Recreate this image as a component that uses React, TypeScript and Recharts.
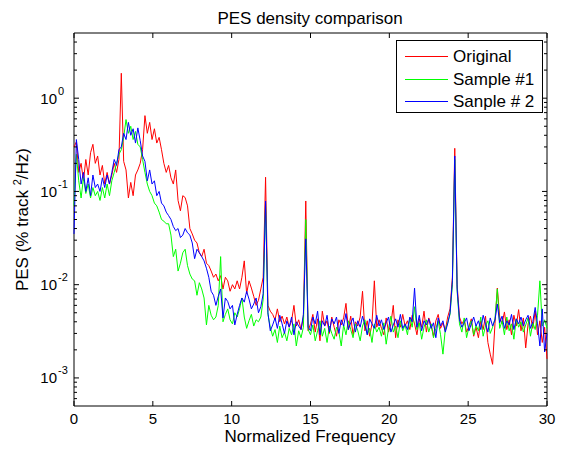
import React from 'react'
import { LineChart, Line, XAxis, YAxis, ReferenceArea } from 'recharts'

const FONT = '"Liberation Sans", Arial, Helvetica, sans-serif'
const PLOT_W = 473
const PLOT_H = 373

// frequency grid (normalized), 0..30 step 0.15
const freq = Array.from({ length: 201 }, (_, i) => Math.round(i * 15) / 100)

const original = [
  0.3, 0.34, 0.16, 0.2, 0.13, 0.22, 0.15, 0.26, 0.32, 0.2,
  0.24, 0.15, 0.19, 0.12, 0.16, 0.12, 0.15, 0.2, 0.16, 0.22,
  1.85, 0.21, 0.17, 0.085, 0.125, 0.09, 0.15, 0.17, 0.2, 0.28,
  0.65, 0.42, 0.55, 0.36, 0.47, 0.33, 0.38, 0.28, 0.2, 0.16,
  0.19, 0.14, 0.12, 0.17, 0.08, 0.062, 0.09, 0.086, 0.07, 0.04,
  0.035, 0.03, 0.028, 0.022, 0.02, 0.024, 0.017, 0.016, 0.014, 0.012,
  0.013, 0.011, 0.0125, 0.009, 0.012, 0.011, 0.0085, 0.01, 0.009, 0.011,
  0.009, 0.012, 0.018, 0.008, 0.011, 0.0092, 0.0075, 0.006, 0.0068, 0.009,
  0.012, 0.142, 0.006, 0.0052, 0.0048, 0.0042, 0.0055, 0.004, 0.0046, 0.0038,
  0.0045, 0.0035, 0.0041, 0.006, 0.0036, 0.0042, 0.0033, 0.0045, 0.079, 0.0032,
  0.0038, 0.0048, 0.0031, 0.0043, 0.0025, 0.0052, 0.0036, 0.0041, 0.003, 0.0045,
  0.0035, 0.0028, 0.0042, 0.0037, 0.0044, 0.0063, 0.0033, 0.0046, 0.0029, 0.004,
  0.0036, 0.0045, 0.0085, 0.0032, 0.0041, 0.0028, 0.0038, 0.011, 0.0035, 0.0042,
  0.0034, 0.0029, 0.0044, 0.0031, 0.0038, 0.006, 0.0027, 0.0042, 0.0035, 0.0048,
  0.0036, 0.0041, 0.0033, 0.0047, 0.0038, 0.0029, 0.0043, 0.0035, 0.0052, 0.0031,
  0.0044, 0.0037, 0.0028, 0.0041, 0.0048, 0.0034, 0.0039, 0.0032, 0.0045, 0.0055,
  0.012, 0.29, 0.01, 0.0045, 0.0038, 0.0042, 0.0031, 0.0036, 0.0043, 0.0028,
  0.0035, 0.0027, 0.0041, 0.0033, 0.0046, 0.0024, 0.0018, 0.0014, 0.0038, 0.0092,
  0.0045, 0.0038, 0.0051, 0.0033, 0.0042, 0.0029, 0.0047, 0.0036, 0.0054, 0.0032,
  0.0044, 0.0021, 0.0038, 0.0046, 0.0034, 0.0052, 0.0029, 0.0041, 0.0024, 0.0035,
  0.0016,
]

const sample1 = [
  0.07, 0.25, 0.13, 0.085, 0.14, 0.095, 0.12, 0.085, 0.11, 0.09,
  0.1, 0.08, 0.11, 0.085, 0.12, 0.09, 0.13, 0.16, 0.2, 0.25,
  0.28, 0.38, 0.59, 0.42, 0.5, 0.36, 0.44, 0.32, 0.3, 0.22,
  0.16, 0.12, 0.1, 0.09, 0.075, 0.07, 0.06, 0.05, 0.048, 0.045,
  0.045, 0.034, 0.02, 0.024, 0.014, 0.017, 0.022, 0.024, 0.016, 0.013,
  0.0115, 0.011, 0.0077, 0.0105, 0.009, 0.0072, 0.0037, 0.006, 0.0047, 0.0042,
  0.0045, 0.006, 0.02, 0.004, 0.0048, 0.0055, 0.0042, 0.0038, 0.005, 0.0045,
  0.0055, 0.0072, 0.0045, 0.0034, 0.0041, 0.0048, 0.0036, 0.0042, 0.004, 0.0045,
  0.007, 0.075, 0.0048, 0.0035, 0.0028, 0.0033, 0.0024, 0.0036, 0.0027, 0.0031,
  0.0025, 0.0034, 0.0029, 0.0038, 0.0022, 0.0032, 0.0027, 0.0035, 0.05, 0.0033,
  0.0029, 0.0037, 0.0025, 0.0032, 0.0041, 0.0028, 0.0034, 0.0024, 0.0036, 0.003,
  0.0026, 0.0035, 0.0031, 0.0022, 0.0037, 0.0029, 0.0041, 0.0033, 0.0027, 0.0038,
  0.0032, 0.0025, 0.0036, 0.0042, 0.0029, 0.0034, 0.0024, 0.0038, 0.0031, 0.0035,
  0.0028, 0.0039, 0.0023, 0.0034, 0.0046, 0.0031, 0.0036, 0.0027, 0.0041, 0.0032,
  0.0037, 0.0029, 0.0044, 0.0035, 0.0058, 0.0033, 0.0039, 0.0026, 0.0035, 0.0042,
  0.0031, 0.0038, 0.0027, 0.0034, 0.0041, 0.0029, 0.0018, 0.0033, 0.0039, 0.0048,
  0.01, 0.22, 0.0085, 0.0038, 0.0031, 0.0044, 0.0027, 0.0035, 0.0041, 0.0029,
  0.0037, 0.0032, 0.0045, 0.0028, 0.0036, 0.0041, 0.003, 0.0035, 0.0043, 0.009,
  0.0034, 0.0041, 0.0029, 0.0045, 0.0032, 0.0038, 0.0026, 0.0043, 0.0035, 0.004,
  0.0031, 0.0037, 0.0044, 0.0028, 0.0039, 0.0033, 0.0047, 0.011, 0.0036, 0.0042,
  0.0034,
]

const sample2 = [
  0.035, 0.36, 0.22, 0.12, 0.16, 0.1, 0.14, 0.09, 0.15, 0.11,
  0.12, 0.1, 0.14, 0.11, 0.15, 0.12, 0.16, 0.22, 0.19, 0.28,
  0.3, 0.42, 0.36, 0.55, 0.4, 0.47, 0.33, 0.48, 0.35, 0.24,
  0.21, 0.13, 0.17, 0.12, 0.13, 0.09, 0.1, 0.075, 0.07, 0.06,
  0.055, 0.05, 0.042, 0.038, 0.04, 0.032, 0.034, 0.04, 0.036, 0.034,
  0.028, 0.019, 0.024, 0.022, 0.02, 0.018, 0.015, 0.012, 0.0085, 0.0077,
  0.006, 0.0075, 0.009, 0.0044, 0.0072, 0.0066, 0.0055, 0.006, 0.0037, 0.0048,
  0.006, 0.0072, 0.0065, 0.0085, 0.007, 0.0055, 0.0062, 0.0072, 0.005, 0.0058,
  0.008, 0.079, 0.005, 0.0032, 0.0037, 0.0044, 0.0034, 0.0047, 0.0038, 0.003,
  0.0041, 0.0035, 0.0045, 0.0029, 0.004, 0.0036, 0.0033, 0.0048, 0.031, 0.0035,
  0.0032, 0.0045, 0.0038, 0.0052, 0.0029, 0.0041, 0.0036, 0.0047, 0.0031, 0.0043,
  0.0038, 0.0045, 0.003, 0.0042, 0.0036, 0.0049, 0.0033, 0.0039, 0.0044, 0.0031,
  0.0041, 0.0035, 0.0046, 0.0037, 0.0029, 0.0043, 0.0038, 0.0034, 0.0047, 0.0036,
  0.0042, 0.0033, 0.0039, 0.0045, 0.0031, 0.0037, 0.0043, 0.0035, 0.0048, 0.0034,
  0.0038, 0.0033, 0.0045, 0.004, 0.0092, 0.0035, 0.0047, 0.0032, 0.0041, 0.0037,
  0.0043, 0.0034, 0.0039, 0.0027, 0.0044, 0.0036, 0.0041, 0.0031, 0.0038, 0.005,
  0.011, 0.24, 0.009, 0.0042, 0.0035, 0.0039, 0.0044, 0.0032, 0.0038, 0.0045,
  0.0036, 0.0041, 0.0033, 0.0047, 0.0038, 0.0031, 0.0044, 0.0036, 0.0042, 0.0062,
  0.0039, 0.0046, 0.0034, 0.0041, 0.0037, 0.0048, 0.0033, 0.0043, 0.0038, 0.0045,
  0.0036, 0.0042, 0.0047, 0.0034, 0.004, 0.0057, 0.0038, 0.0022, 0.0055, 0.0019,
  0.003,
]

const xTicks = [0, 5, 10, 15, 20, 25, 30]
const yTicks = [
  0.0006, 0.0007, 0.0008, 0.0009,
  0.001, 0.002, 0.003, 0.004, 0.005, 0.006, 0.007, 0.008, 0.009,
  0.01, 0.02, 0.03, 0.04, 0.05, 0.06, 0.07, 0.08, 0.09,
  0.1, 0.2, 0.3, 0.4, 0.5, 0.6, 0.7, 0.8, 0.9,
  1, 2, 3, 4,
]

const seriesNames = ['Original', 'Sample #1', 'Sanple # 2']
const seriesColors = ['#ff0000', '#00ff00', '#0000ff']

const data = freq.map((f, i) => ({
  f,
  original: original[i],
  sample1: sample1[i],
  sample2: sample2[i],
}))

const XTick = (props: any) => {
  const { x, y, payload } = props
  return (
    <g>
      <line x1={x} x2={x} y1={y} y2={y - 5} stroke="#000" />
      <line x1={x} x2={x} y1={y - PLOT_H} y2={y - PLOT_H + 5} stroke="#000" />
      <text x={x} y={y + 18} textAnchor="middle" fontSize={15} fontFamily={FONT} fill="#000">
        {payload.value}
      </text>
    </g>
  )
}

const YTick = (props: any) => {
  const { x, y, payload } = props
  const lg = Math.log10(payload.value)
  const exp = Math.round(lg)
  const major = Math.abs(lg - exp) < 1e-6
  const len = major ? 5 : 3
  return (
    <g>
      <line x1={x} x2={x + len} y1={y} y2={y} stroke="#000" />
      <line x1={x + PLOT_W} x2={x + PLOT_W - len} y1={y} y2={y} stroke="#000" />
      {major && (
        <>
          <text x={x - 17} y={y + 5.4} textAnchor="end" fontSize={15} fontFamily={FONT} fill="#000">10</text>
          <text x={x - 16} y={y - 3.5} fontSize={11} fontFamily={FONT} fill="#000">{String(exp)}</text>
        </>
      )}
    </g>
  )
}

const txt: React.CSSProperties = {
  position: 'absolute',
  fontFamily: FONT,
  fontSize: 17,
  lineHeight: '17px',
  color: '#000',
  whiteSpace: 'nowrap',
}

export default function App() {
  return (
    <div style={{ position: 'relative', width: 564, height: 455, margin: -8, background: '#fff' }}>
      <LineChart
        width={564}
        height={455}
        data={data}
        margin={{ top: 33, right: 17, bottom: 0, left: 0 }}
      >
        <XAxis
          dataKey="f"
          type="number"
          domain={[0, 30]}
          ticks={xTicks}
          interval={0}
          height={49}
          axisLine={false}
          tickLine={false}
          tickSize={0}
          tickMargin={0}
          tick={<XTick />}
        />
        <YAxis
          type="number"
          scale="log"
          domain={[0.0005, 5]}
          allowDataOverflow
          ticks={yTicks}
          interval={0}
          width={74}
          axisLine={false}
          tickLine={false}
          tickSize={0}
          tickMargin={0}
          tick={<YTick />}
        />
        <Line type="linear" dataKey="original" stroke={seriesColors[0]} strokeWidth={1} dot={false} isAnimationActive={false} />
        <Line type="linear" dataKey="sample1" stroke={seriesColors[1]} strokeWidth={1} dot={false} isAnimationActive={false} />
        <Line type="linear" dataKey="sample2" stroke={seriesColors[2]} strokeWidth={1} dot={false} isAnimationActive={false} />
        <ReferenceArea x1={0} x2={30} y1={0.0005} y2={5} fill="none" stroke="#000" strokeWidth={1} ifOverflow="visible" />
      </LineChart>

      <div style={{ ...txt, left: 310, top: 10, transform: 'translateX(-50%)' }}>PES density comparison</div>
      <div style={{ ...txt, left: 310, top: 428, transform: 'translateX(-50%)' }}>Normalized Frequency</div>
      <div
        style={{
          ...txt,
          left: 22 - 150,
          top: 219 - 8,
          width: 300,
          textAlign: 'center',
          transform: 'rotate(-90deg)',
        }}
      >
        PES (% track <sup style={{ fontSize: 11, lineHeight: 0 }}>2</sup>/Hz)
      </div>

      <div
        style={{
          position: 'absolute',
          left: 396,
          top: 40,
          width: 147,
          height: 73,
          boxSizing: 'border-box',
          border: '1px solid #000',
          background: '#fff',
        }}
      >
        {seriesNames.map((name, i) => (
          <React.Fragment key={name}>
            <div
              style={{
                position: 'absolute',
                left: 8,
                top: 15 + i * 22.5,
                width: 43,
                height: 1,
                background: seriesColors[i],
              }}
            />
            <div style={{ ...txt, left: 56, top: 7 + i * 22.5 }}>{name}</div>
          </React.Fragment>
        ))}
      </div>
    </div>
  )
}
